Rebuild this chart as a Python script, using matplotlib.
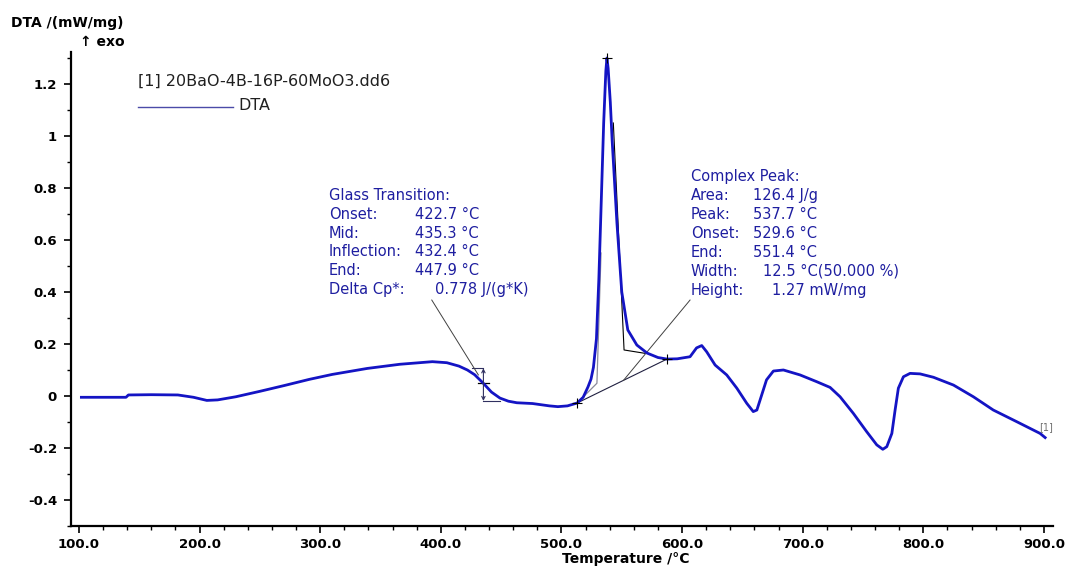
import matplotlib
matplotlib.use("Agg")
import matplotlib.pyplot as plt
from matplotlib.ticker import MultipleLocator, FuncFormatter

plt.rcParams["font.family"] = ["DejaVu Sans"]
plt.rcParams["axes.unicode_minus"] = False

# DTA 곡선 (온도 °C, mW/mg)
temp = [102, 120, 139, 141, 160, 182, 195, 206, 215, 230, 250, 270, 291, 310,
        339, 366, 393, 405, 415, 422, 428, 435, 442, 449, 456, 463, 476, 490,
        497, 505, 513, 518, 522, 524.5, 526.5, 529, 531, 533, 535, 536.8,
        537.7, 538.7, 540.5, 542, 546, 550, 555, 562.5, 571, 580, 587.5, 596,
        606.6, 612, 616.3, 620.4, 627.4, 637, 645.4, 653.6, 659, 662, 664.7,
        670, 675.7, 684, 697.8, 711.6, 722.7, 731, 742, 753, 761.4, 766.4,
        769.7, 773.9, 776.6, 779.3, 783.5, 789, 797.3, 808.4, 825, 841.5, 858,
        877.5, 896.8, 901]
dta = [-0.005, -0.005, -0.005, 0.004, 0.005, 0.004, -0.005, -0.017, -0.015,
       -0.003, 0.018, 0.040, 0.064, 0.083, 0.106, 0.122, 0.132, 0.128, 0.115,
       0.100, 0.082, 0.050, 0.015, -0.008, -0.020, -0.026, -0.029, -0.038,
       -0.041, -0.038, -0.027, -0.005, 0.035, 0.065, 0.110, 0.220, 0.450,
       0.750, 1.050, 1.250, 1.300, 1.260, 1.130, 0.985, 0.665, 0.400, 0.254,
       0.196, 0.165, 0.148, 0.142, 0.143, 0.151, 0.185, 0.194, 0.170, 0.119,
       0.081, 0.030, -0.028, -0.060, -0.054, -0.015, 0.062, 0.096, 0.100,
       0.081, 0.055, 0.033, -0.003, -0.067, -0.137, -0.188, -0.205, -0.195,
       -0.144, -0.054, 0.030, 0.074, 0.087, 0.085, 0.072, 0.042, -0.003,
       -0.054, -0.099, -0.144, -0.160]

# 유리전이 / 결정화 피크 결과
glass_keys = ["Glass Transition:", "Onset:", "Mid:", "Inflection:", "End:", "Delta Cp*:"]
glass_vals = ["", "422.7 °C", "435.3 °C", "432.4 °C", "447.9 °C", "0.778 J/(g*K)"]
peak_keys = ["Complex Peak:", "Area:", "Peak:", "Onset:", "End:", "Width:", "Height:"]
peak_vals = ["", "126.4 J/g", "537.7 °C", "529.6 °C", "551.4 °C",
             "12.5 °C(50.000 %)", "1.27 mW/mg"]

tg_on, tg_mid, tg_end = 425.5, 435.3, 449.0
tg_hi, tg_lo, tg_infl = 0.1065, -0.019, 0.049
pk_t, pk_v = 537.7, 1.30
base_t = [513.0, 587.5]
base_v = [-0.027, 0.142]

fig = plt.figure(figsize=(10.67, 5.68), dpi=100)
ax = fig.add_axes([71 / 1067, 42 / 568, 982 / 1067, 474 / 568])

line_c = "#1414c4"
txt_c = "#1e1ea0"

ax.plot(temp, dta, color=line_c, linewidth=2.0, zorder=3)

# 유리전이 표시
ax.plot([tg_on, tg_mid], [tg_hi, tg_hi], color="#303060", lw=0.8)
ax.plot([tg_mid, tg_end], [tg_lo, tg_lo], color="#303060", lw=0.8)
ax.plot([430.8, 440.0], [tg_infl, tg_infl], color="black", lw=0.9)
ax.annotate("", xy=(tg_mid, tg_lo), xytext=(tg_mid, tg_hi),
            arrowprops=dict(arrowstyle="<->", color="#303060", lw=0.8,
                            mutation_scale=6, shrinkA=0, shrinkB=0))
ax.plot([392.5, 431.1], [0.369, 0.081], color="#404040", lw=0.7)

# 피크 표시
ax.plot(base_t, base_v, color="#202040", lw=0.8)
ax.plot([513.0, 529.4, 532.8], [-0.027, 0.049, 0.55], color="#8a8a9a", lw=0.9)
ax.plot([543.0, 551.9, 569.3], [1.05, 0.177, 0.164], color="black", lw=0.8)
ax.plot([551.4, 606.6], [0.060, 0.369], color="#404040", lw=0.7)
ax.plot([pk_t] + base_t, [pk_v] + base_v, linestyle="none", marker="+",
        color="black", markersize=7, markeredgewidth=0.8, zorder=4)

for i, (k, v) in enumerate(zip(glass_keys, glass_vals)):
    y = 0.770 - i * 0.072
    ax.text(307.3, y, k, color=txt_c, fontsize=10.5, va="center")
    ax.text(395.2 if i == 5 else 378.6, y, v, color=txt_c, fontsize=10.5, va="center")

for i, (k, v) in enumerate(zip(peak_keys, peak_vals)):
    y = 0.8435 - i * 0.0727
    ax.text(607.2, y, k, color=txt_c, fontsize=10.5, va="center")
    x = {5: 666.9, 6: 674.3}.get(i, 658.6)
    ax.text(x, y, v, color=txt_c, fontsize=10.5, va="center")

ax.text(896, -0.119, "[1]", color="#707070", fontsize=7, va="center")

ax.set_xlim(93.4, 907.5)
ax.set_ylim(-0.5, 1.323)
ax.xaxis.set_major_locator(MultipleLocator(100))
ax.xaxis.set_minor_locator(MultipleLocator(20))
ax.yaxis.set_major_locator(MultipleLocator(0.2))
ax.yaxis.set_minor_locator(MultipleLocator(0.1))
ax.xaxis.set_major_formatter(FuncFormatter(lambda v, p: f"{v:.1f}"))
ax.yaxis.set_major_formatter(FuncFormatter(lambda v, p: f"{round(v, 2):g}"))

for s in ["top", "right"]:
    ax.spines[s].set_visible(False)
for s in ["left", "bottom"]:
    ax.spines[s].set_linewidth(1.6)
ax.tick_params(axis="both", which="major", length=5, width=1.2, labelsize=9.5)
ax.tick_params(axis="both", which="minor", length=3, width=1.0)
ax.tick_params(axis="y", pad=5)
ax.tick_params(axis="x", pad=4)
for lab in ax.get_xticklabels() + ax.get_yticklabels():
    lab.set_fontweight("bold")

# 축 제목, 범례
fig.text(11 / 1067, 1 - 22.7 / 568, "DTA /(mW/mg)", fontsize=10,
         fontweight="bold", va="center")
fig.text(80 / 1067, 1 - 41.7 / 568, "↑ exo", fontsize=10,
         fontweight="bold", va="center")
fig.text(626 / 1067, 1 - 559 / 568, "Temperature /°C", fontsize=10,
         fontweight="bold", ha="center", va="center")

fig.text(138 / 1067, 1 - 81.7 / 568, "[1] 20BaO-4B-16P-60MoO3.dd6",
         fontsize=11.5, color="#202020", va="center")
fig.add_artist(plt.Line2D([138 / 1067, 233 / 1067], [1 - 107.3 / 568] * 2,
                          color="#4b4ba8", lw=1.0))
fig.text(238 / 1067, 1 - 106 / 568, "DTA", fontsize=11.5, color="#202020",
         va="center")

fig.savefig("out.png", dpi=100)
